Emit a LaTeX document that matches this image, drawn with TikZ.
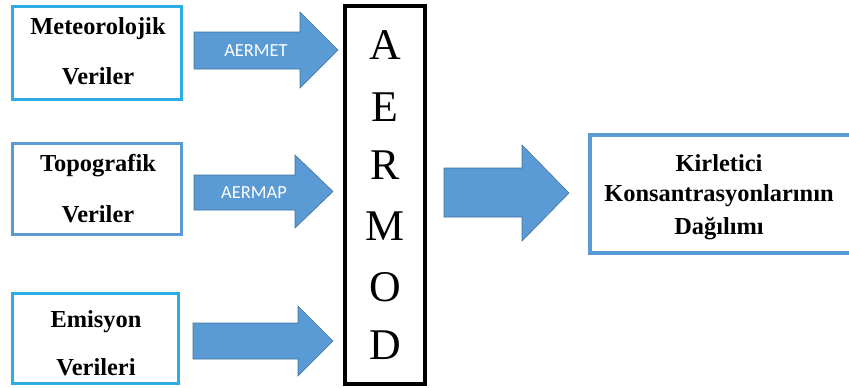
\documentclass[tikz,border=0pt]{standalone}
\usepackage{fontspec}
\setmainfont{Liberation Serif}
\newfontfamily\calib{Carlito}
\definecolor{cyanb}{HTML}{2CAEE4}
\definecolor{blueb}{HTML}{5B9BD5}
\definecolor{arrowfill}{HTML}{5B9BD5}
\definecolor{arrowline}{HTML}{41719C}
\tikzset{
  databox/.style={line width=3bp},
  boxtext/.style={font=\bfseries\fontsize{24.5}{24.5}\selectfont, anchor=center, inner sep=0pt},
  blockarrow/.style={fill=arrowfill, draw=arrowline, line width=0.6bp, line join=miter},
  arrowlabel/.style={font=\calib\fontsize{18.5}{18.5}\selectfont, text=white, inner sep=0pt},
  letter/.style={font=\fontsize{44}{44}\selectfont, inner sep=0pt}
}
% #1 x0, #2 shaft top, #3 shaft bottom, #4 head x, #5 head top, #6 head bottom, #7 tip x, #8 tip y
\newcommand{\blockarr}[8]{%
  \draw[blockarrow] (#1,#2) -- (#4,#2) -- (#4,#5) -- (#7,#8) -- (#4,#6) -- (#4,#3) -- (#1,#3) -- cycle;}
\begin{document}
\begin{tikzpicture}[x=1bp,y=-1bp]
\useasboundingbox (0,0) rectangle (849,387);
\begin{scope}
\clip (0,0) rectangle (849,387);
% input boxes
\draw[databox, draw=cyanb] (12.5,6.5) rectangle (181.5,99.5);
\node[boxtext] (t1a) at (98,29) {Meteorolojik};
\node[boxtext] (t1b) at (98,76) {Veriler};

\draw[databox, draw=blueb] (12.5,143.5) rectangle (181.5,234.5);
\node[boxtext] (t2a) at (98,166) {Topografik};
\node[boxtext] (t2b) at (98,214) {Veriler};

\draw[databox, draw=cyanb] (12.5,293.5) rectangle (178.5,383.5);
\node[boxtext] (t3a) at (96,322) {Emisyon};
\node[boxtext] (t3b) at (96,367) {Verileri};

% AERMOD box
\draw[line width=4.5bp, black] (345,6) rectangle (425,384);
\node[letter] (lA) at (385,45) {A};
\node[letter] (lE) at (385,107) {E};
\node[letter] (lR) at (385,165) {R};
\node[letter] (lM) at (385,226) {M};
\node[letter] (lO) at (385,287) {O};
\node[letter] (lD) at (385,345) {D};

% output box
\draw[line width=4bp, draw=blueb] (590,135) rectangle (852,253);
\node[boxtext] (t4a) at (719,163) {Kirletici};
\node[boxtext] (t4b) at (719,196) {Konsantrasyonlarının};
\node[boxtext] (t4c) at (719,229) {Dağılımı};

% block arrows
\blockarr{194}{32}{69}{300}{12}{88}{338}{50}
\node[arrowlabel] (aermet) at (256,51) {AERMET};
\blockarr{194}{175}{210}{295}{155}{228}{333}{191.5}
\node[arrowlabel] (aermap) at (254,193) {AERMAP};
\blockarr{193}{323}{359}{298}{306}{376}{333}{341}
\blockarr{444}{168}{217}{522}{145}{241}{569}{193}
\end{scope}
\end{tikzpicture}
\end{document}
